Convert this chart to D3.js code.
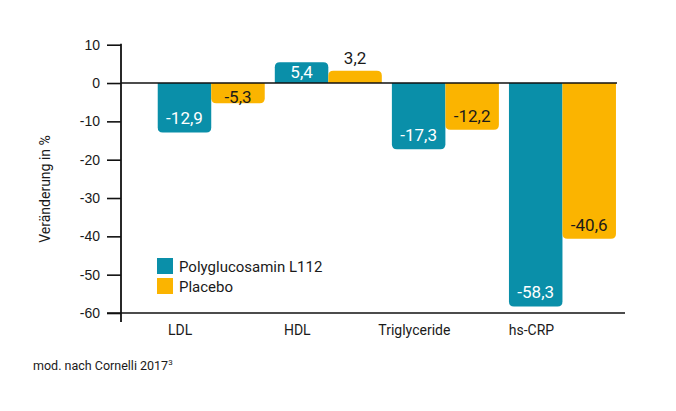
<!DOCTYPE html>
<html>
<head>
<meta charset="utf-8">
<script src="https://cdn.jsdelivr.net/npm/d3@7"></script>
<style>
  html, body { margin: 0; padding: 0; background: #fff; }
  svg { display: block; font-family: Roboto, "Noto Sans", sans-serif; }
  .tick text { font-size: 14px; fill: #1a1a1a; }
</style>
</head>
<body>
<div id="chart"></div>
<script>
// Data
var categories = ['LDL', 'HDL', 'Triglyceride', 'hs-CRP'];
var seriesNames = ['Polyglucosamin L112', 'Placebo'];
var polyValues = [-12.9, 5.4, -17.3, -58.3];
var placeboValues = [-5.3, 3.2, -12.2, -40.6];
var yTicks = [10, 0, -10, -20, -30, -40, -50, -60];

var colors = { 'Polyglucosamin L112': '#0a8fa9', 'Placebo': '#fbb400' };
var textColor = '#1a1a1a';

var width = 676, height = 411;
var svg = d3.select('#chart').append('svg')
  .attr('width', width)
  .attr('height', height);

var axisX = 121;
var y = d3.scaleLinear().domain([-60, 10]).range([313, 44.7]);
var x0 = d3.scaleBand().domain(categories)
  .range([152.7, 621]).paddingInner(0.086).paddingOuter(0.043);
var x1 = d3.scaleBand().domain(seriesNames).range([0, x0.bandwidth()]);

// y axis
var yAxis = d3.axisLeft(y).tickValues(yTicks).tickSize(14).tickPadding(7)
  .tickFormat(function (d) { return d; });
var gy = svg.append('g').attr('transform', 'translate(' + axisX + ',0)').call(yAxis);
gy.select('.domain').remove();
gy.selectAll('.tick line').attr('stroke', '#111').attr('stroke-width', 1.6);
gy.append('line')
  .attr('x1', 0).attr('x2', 0)
  .attr('y1', y(10) - 1).attr('y2', 322)
  .attr('stroke', '#111').attr('stroke-width', 1.8);

// bottom line at -60
svg.append('line')
  .attr('x1', axisX - 14).attr('x2', 625)
  .attr('y1', y(-60)).attr('y2', y(-60))
  .attr('stroke', '#111').attr('stroke-width', 1.6);

// y label
svg.append('text')
  .attr('transform', 'translate(50,189) rotate(-90)')
  .attr('text-anchor', 'middle')
  .attr('font-size', 14)
  .attr('fill', textColor)
  .text('Veränderung in %');

// bars with rounded far ends
function barPath(x, w, v) {
  var y0 = y(0), y1 = y(v);
  var r = Math.min(5, Math.abs(y1 - y0) / 2);
  if (v >= 0) {
    return 'M' + x + ',' + y0 + 'V' + (y1 + r) +
      'Q' + x + ',' + y1 + ' ' + (x + r) + ',' + y1 +
      'H' + (x + w - r) +
      'Q' + (x + w) + ',' + y1 + ' ' + (x + w) + ',' + (y1 + r) +
      'V' + y0 + 'Z';
  }
  return 'M' + x + ',' + y0 + 'V' + (y1 - r) +
    'Q' + x + ',' + y1 + ' ' + (x + r) + ',' + y1 +
    'H' + (x + w - r) +
    'Q' + (x + w) + ',' + y1 + ' ' + (x + w) + ',' + (y1 - r) +
    'V' + y0 + 'Z';
}

var rows = categories.map(function (c, i) {
  return { cat: c, values: [
    { name: seriesNames[0], v: polyValues[i] },
    { name: seriesNames[1], v: placeboValues[i] }
  ] };
});

var groups = svg.selectAll('.group').data(rows).enter().append('g')
  .attr('transform', function (d) { return 'translate(' + x0(d.cat) + ',0)'; });

groups.selectAll('path').data(function (d) { return d.values; }).enter().append('path')
  .attr('d', function (d) { return barPath(x1(d.name), x1.bandwidth(), d.v); })
  .attr('fill', function (d) { return colors[d.name]; });

groups.selectAll('text.val').data(function (d) { return d.values; }).enter().append('text')
  .attr('class', 'val')
  .attr('x', function (d) { return x1(d.name) + x1.bandwidth() / 2; })
  .attr('y', function (d) {
    if (d.v < 0) return Math.max(y(0) + 20, y(d.v) - 8);
    if (y(0) - y(d.v) > 18) return y(0) - 5;
    return y(d.v) - 7;
  })
  .attr('text-anchor', 'middle')
  .attr('font-size', 17)
  .attr('fill', function (d) {
    var inside = d.v < 0 || (y(0) - y(d.v) > 18);
    return (inside && d.name === seriesNames[0]) ? '#ffffff' : textColor;
  })
  .text(function (d) { return String(d.v).replace('.', ','); });

// zero line
svg.append('line')
  .attr('x1', axisX).attr('x2', 617)
  .attr('y1', y(0)).attr('y2', y(0))
  .attr('stroke', '#111').attr('stroke-width', 1.4);

// category labels, roughly under the first bar of each group
svg.selectAll('.cat').data(categories).enter().append('text')
  .attr('x', function (d) { return x0(d) + x0.bandwidth() * 0.21; })
  .attr('y', 335)
  .attr('text-anchor', 'middle')
  .attr('font-size', 14)
  .attr('fill', textColor)
  .text(function (d) { return d; });

// legend
var legend = svg.append('g').attr('transform', 'translate(157,258)');
seriesNames.forEach(function (name, i) {
  legend.append('rect')
    .attr('x', 0).attr('y', i * 20)
    .attr('width', 16).attr('height', 16)
    .attr('fill', colors[name]);
  legend.append('text')
    .attr('x', 22).attr('y', i * 20 + 13.5)
    .attr('font-size', 15)
    .attr('fill', textColor)
    .text(name);
});

// source note
var src = svg.append('text')
  .attr('x', 33).attr('y', 370)
  .attr('font-size', 12.5)
  .attr('fill', textColor)
  .text('mod. nach Cornelli 2017');
src.append('tspan').attr('dy', -5).attr('font-size', 8).text('3');
</script>
</body>
</html>
